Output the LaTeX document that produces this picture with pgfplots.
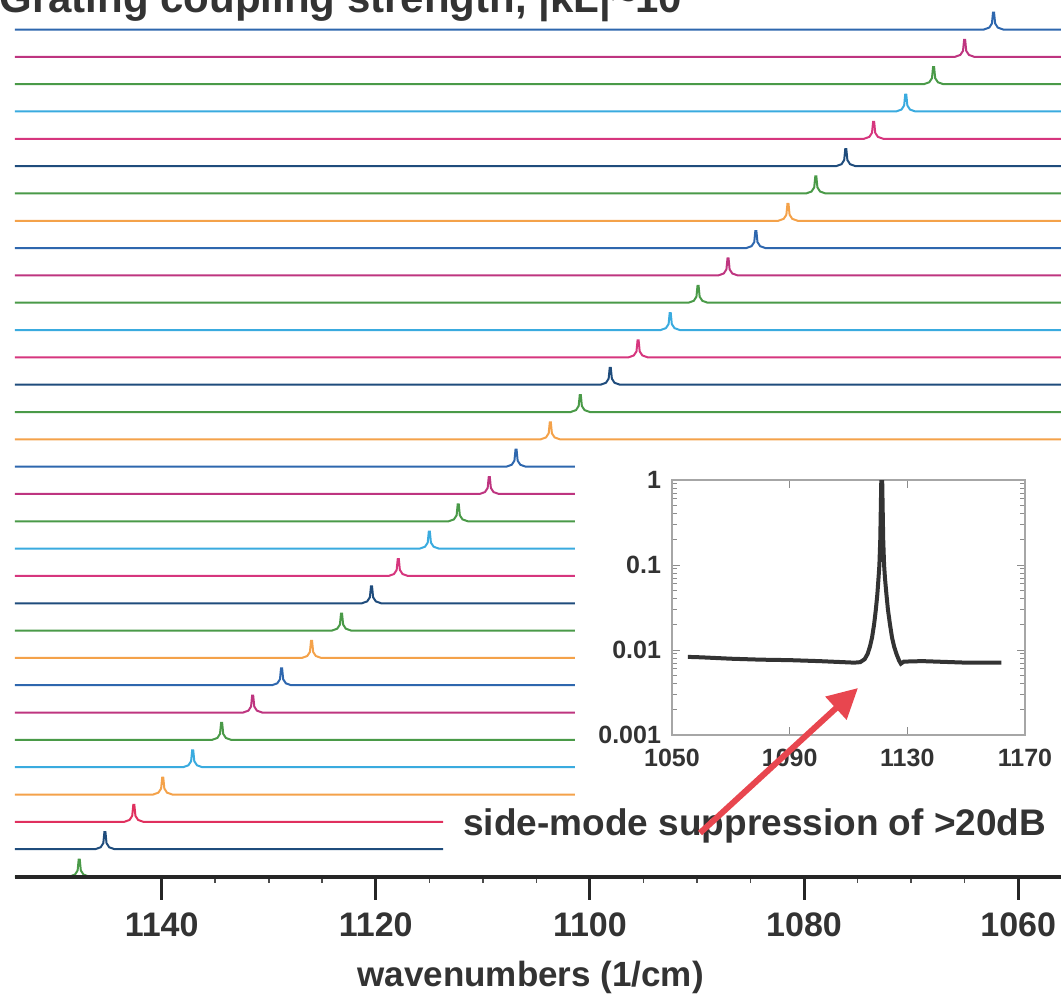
\documentclass[border=0pt]{standalone}
\usepackage{pgfplots}
\pgfplotsset{compat=1.18}
\usepackage{fontspec}
\setmainfont{Liberation Sans}
\usetikzlibrary{arrows.meta}
\definecolor{cblue}{HTML}{2E67AE}
\definecolor{cmag}{HTML}{BE3580}
\definecolor{cpink}{HTML}{D6367E}
\definecolor{cgreen}{HTML}{4A9A48}
\definecolor{clblue}{HTML}{3AABDF}
\definecolor{cdblue}{HTML}{1F4C7C}
\definecolor{corange}{HTML}{F4A24A}
\definecolor{cred}{HTML}{E0305E}
\definecolor{arrowred}{HTML}{E8464F}
\definecolor{txt}{HTML}{333333}
\pgfplotsset{tr/.style={line width=1pt, mark=none}}
\begin{document}
\begin{tikzpicture}
\begin{axis}[at={(0pt,0pt)}, anchor=south west, scale only axis,
  width=523pt, height=438.25pt,
  xmin=1056, xmax=1153.7, x dir=reverse, ymin=0, ymax=32.08,
  axis x line=bottom, axis y line=none,
  axis line style={line width=2pt, black!85},
  x axis line style={-},
  xtick={1060,1080,1100,1120,1140}, minor x tick num=3, ytick=\empty,
  tick align=outside, major tick length=11.5pt, minor tick length=3pt,
  major tick style={line width=1.5pt, black!85},
  minor tick style={line width=0.8pt, black!70},
  xticklabel style={font=\fontsize{17}{19}\selectfont\bfseries, text=txt, yshift=-3pt},
  xlabel={wavenumbers (1/cm)},
  xlabel style={font=\fontsize{17.5}{20}\selectfont\bfseries, text=txt, at={(axis description cs:0.493,0)}, anchor=base, yshift=-55pt},
  axis on top, clip=false,
  /pgf/number format/1000 sep={}, /pgf/number format/assume math mode=true]
\addplot[tr, cblue] coordinates {(1153.7,31) (1063.2,31) (1062.7,31.07) (1062.45,31.22) (1062.35,31.62) (1062.25,31.62) (1062.15,31.22) (1061.9,31.07) (1061.4,31) (1056,31)};
\addplot[tr, cmag] coordinates {(1153.7,30) (1065.9,30) (1065.4,30.07) (1065.15,30.22) (1065.05,30.62) (1064.95,30.62) (1064.85,30.22) (1064.6,30.07) (1064.1,30) (1056,30)};
\addplot[tr, cgreen] coordinates {(1153.7,29) (1068.8,29) (1068.3,29.07) (1068.05,29.22) (1067.95,29.62) (1067.85,29.62) (1067.75,29.22) (1067.5,29.07) (1067.0,29) (1056,29)};
\addplot[tr, clblue] coordinates {(1153.7,28) (1071.4,28) (1070.9,28.07) (1070.65,28.22) (1070.55,28.62) (1070.45,28.62) (1070.35,28.22) (1070.1,28.07) (1069.6,28) (1056,28)};
\addplot[tr, cpink] coordinates {(1153.7,27) (1074.4,27) (1073.9,27.07) (1073.65,27.22) (1073.55,27.62) (1073.45,27.62) (1073.35,27.22) (1073.1,27.07) (1072.6,27) (1056,27)};
\addplot[tr, cdblue] coordinates {(1153.7,26) (1077.0,26) (1076.5,26.07) (1076.25,26.22) (1076.15,26.62) (1076.05,26.62) (1075.95,26.22) (1075.7,26.07) (1075.2,26) (1056,26)};
\addplot[tr, cgreen] coordinates {(1153.7,25) (1079.8,25) (1079.3,25.07) (1079.05,25.22) (1078.95,25.62) (1078.85,25.62) (1078.75,25.22) (1078.5,25.07) (1078.0,25) (1056,25)};
\addplot[tr, corange] coordinates {(1153.7,24) (1082.4,24) (1081.9,24.07) (1081.65,24.22) (1081.55,24.62) (1081.45,24.62) (1081.35,24.22) (1081.1,24.07) (1080.6,24) (1056,24)};
\addplot[tr, cblue] coordinates {(1153.7,23) (1085.4,23) (1084.9,23.07) (1084.65,23.22) (1084.55,23.62) (1084.45,23.62) (1084.35,23.22) (1084.1,23.07) (1083.6,23) (1056,23)};
\addplot[tr, cmag] coordinates {(1153.7,22) (1088.0,22) (1087.5,22.07) (1087.25,22.22) (1087.15,22.62) (1087.05,22.62) (1086.95,22.22) (1086.7,22.07) (1086.2,22) (1056,22)};
\addplot[tr, cgreen] coordinates {(1153.7,21) (1090.8,21) (1090.3,21.07) (1090.05,21.22) (1089.95,21.62) (1089.85,21.62) (1089.75,21.22) (1089.5,21.07) (1089.0,21) (1056,21)};
\addplot[tr, clblue] coordinates {(1153.7,20) (1093.4,20) (1092.9,20.07) (1092.65,20.22) (1092.55,20.62) (1092.45,20.62) (1092.35,20.22) (1092.1,20.07) (1091.6,20) (1056,20)};
\addplot[tr, cpink] coordinates {(1153.7,19) (1096.4,19) (1095.9,19.07) (1095.65,19.22) (1095.55,19.62) (1095.45,19.62) (1095.35,19.22) (1095.1,19.07) (1094.6,19) (1056,19)};
\addplot[tr, cdblue] coordinates {(1153.7,18) (1099.0,18) (1098.5,18.07) (1098.25,18.22) (1098.15,18.62) (1098.05,18.62) (1097.95,18.22) (1097.7,18.07) (1097.2,18) (1056,18)};
\addplot[tr, cgreen] coordinates {(1153.7,17) (1101.8,17) (1101.3,17.07) (1101.05,17.22) (1100.95,17.62) (1100.85,17.62) (1100.75,17.22) (1100.5,17.07) (1100.0,17) (1056,17)};
\addplot[tr, corange] coordinates {(1153.7,16) (1104.6,16) (1104.1,16.07) (1103.85,16.22) (1103.75,16.62) (1103.65,16.62) (1103.55,16.22) (1103.3,16.07) (1102.8,16) (1056,16)};
\addplot[tr, cblue] coordinates {(1153.7,15) (1107.8,15) (1107.3,15.07) (1107.05,15.22) (1106.95,15.62) (1106.85,15.62) (1106.75,15.22) (1106.5,15.07) (1106.0,15) (1101.4,15)};
\addplot[tr, cmag] coordinates {(1153.7,14) (1110.3,14) (1109.8,14.07) (1109.55,14.22) (1109.45,14.62) (1109.35,14.62) (1109.25,14.22) (1109.0,14.07) (1108.5,14) (1101.4,14)};
\addplot[tr, cgreen] coordinates {(1153.7,13) (1113.2,13) (1112.7,13.07) (1112.45,13.22) (1112.35,13.62) (1112.25,13.62) (1112.15,13.22) (1111.9,13.07) (1111.4,13) (1101.4,13)};
\addplot[tr, clblue] coordinates {(1153.7,12) (1115.9,12) (1115.4,12.07) (1115.15,12.22) (1115.05,12.62) (1114.95,12.62) (1114.85,12.22) (1114.6,12.07) (1114.1,12) (1101.4,12)};
\addplot[tr, cpink] coordinates {(1153.7,11) (1118.8,11) (1118.3,11.07) (1118.05,11.22) (1117.95,11.62) (1117.85,11.62) (1117.75,11.22) (1117.5,11.07) (1117.0,11) (1101.4,11)};
\addplot[tr, cdblue] coordinates {(1153.7,10) (1121.3,10) (1120.8,10.07) (1120.55,10.22) (1120.45,10.62) (1120.35,10.62) (1120.25,10.22) (1120.0,10.07) (1119.5,10) (1101.4,10)};
\addplot[tr, cgreen] coordinates {(1153.7,9) (1124.1,9) (1123.6,9.07) (1123.35,9.22) (1123.25,9.62) (1123.15,9.62) (1123.05,9.22) (1122.8,9.07) (1122.3,9) (1101.4,9)};
\addplot[tr, corange] coordinates {(1153.7,8) (1126.9,8) (1126.4,8.07) (1126.15,8.22) (1126.05,8.62) (1125.95,8.62) (1125.85,8.22) (1125.6,8.07) (1125.1,8) (1101.4,8)};
\addplot[tr, cblue] coordinates {(1153.7,7) (1129.7,7) (1129.2,7.07) (1128.95,7.22) (1128.85,7.62) (1128.75,7.62) (1128.65,7.22) (1128.4,7.07) (1127.9,7) (1101.4,7)};
\addplot[tr, cmag] coordinates {(1153.7,6) (1132.4,6) (1131.9,6.07) (1131.65,6.22) (1131.55,6.62) (1131.45,6.62) (1131.35,6.22) (1131.1,6.07) (1130.6,6) (1101.4,6)};
\addplot[tr, cgreen] coordinates {(1153.7,5) (1135.3,5) (1134.8,5.07) (1134.55,5.22) (1134.45,5.62) (1134.35,5.62) (1134.25,5.22) (1134.0,5.07) (1133.5,5) (1101.4,5)};
\addplot[tr, clblue] coordinates {(1153.7,4) (1138.0,4) (1137.5,4.07) (1137.25,4.22) (1137.15,4.62) (1137.05,4.62) (1136.95,4.22) (1136.7,4.07) (1136.2,4) (1101.4,4)};
\addplot[tr, corange] coordinates {(1153.7,3) (1140.8,3) (1140.3,3.07) (1140.05,3.22) (1139.95,3.62) (1139.85,3.62) (1139.75,3.22) (1139.5,3.07) (1139.0,3) (1101.4,3)};
\addplot[tr, cred] coordinates {(1153.7,2) (1143.5,2) (1143.0,2.07) (1142.75,2.22) (1142.65,2.62) (1142.55,2.62) (1142.45,2.22) (1142.2,2.07) (1141.7,2) (1113.7,2)};
\addplot[tr, cdblue] coordinates {(1153.7,1) (1146.2,1) (1145.7,1.07) (1145.45,1.22) (1145.35,1.62) (1145.25,1.62) (1145.15,1.22) (1144.9,1.07) (1144.4,1) (1113.7,1)};
\addplot[tr, cgreen] coordinates {(1153.7,0) (1148.6,0) (1148.1,0.07) (1147.85,0.22) (1147.75,0.62) (1147.65,0.62) (1147.55,0.22) (1147.3,0.07) (1146.8,0) (1056,0)};
\end{axis}
\begin{axis}[at={(328.5pt,70.75pt)}, anchor=south west, scale only axis,
  width=176.5pt, height=127.5pt,
  xmin=1050, xmax=1170, ymode=log, ymin=0.001, ymax=1,
  xtick={1050,1090,1130,1170}, ytick={0.001,0.01,0.1,1}, yticklabels={0.001,0.01,0.1,1},
  axis line style={draw=black!35, line width=0.6pt},
  tick style={black!45, line width=0.5pt}, tick align=inside,
  major tick length=4pt, minor tick length=2.5pt,
  ticklabel style={font=\fontsize{12.5}{14}\selectfont\bfseries, text=txt},
  xticklabel style={yshift=-3.5pt},
  yticklabel style={xshift=-2pt},
  /pgf/number format/1000 sep={}, /pgf/number format/assume math mode=true]
\addplot[draw=black!80, line width=2pt, mark=none] coordinates {
(1055.4,0.0083) (1060,0.0082) (1070,0.0079) (1080,0.0077) (1090,0.0076) (1100,0.0074) (1108,0.0072) (1112,0.0071)
(1114,0.0072) (1115.5,0.0078) (1116.5,0.009) (1117.3,0.011) (1118,0.014) (1118.7,0.02) (1119.3,0.03) (1119.8,0.045)
(1120.2,0.07) (1120.5,0.1) (1120.8,0.2) (1121.0,0.5) (1121.15,1.0) (1121.45,1.0) (1121.6,0.5) (1121.8,0.2)
(1122.1,0.1) (1122.4,0.07) (1122.9,0.045) (1123.4,0.03) (1124.1,0.02) (1124.8,0.014) (1125.5,0.011) (1126.3,0.009)
(1127.2,0.0075) (1127.8,0.0069) (1128.8,0.0073) (1135,0.0074) (1140,0.0073) (1150,0.0071) (1155,0.0071) (1162,0.0071)};
\end{axis}
\node[anchor=base west, inner sep=0pt, text=txt, font=\fontsize{18.5}{21}\selectfont\bfseries] at (224pt,20.75pt) {side-mode suppression of >20dB};
\draw[arrowred, line width=3pt, -{Triangle[length=15pt,width=15pt]}] (342.5pt,21.75pt) -- (421.5pt,94.25pt);
\node[anchor=base west, inner sep=0pt, text=txt, font=\fontsize{21}{24}\selectfont\bfseries] at (-8pt,431.75pt) {Grating coupling strength, |κL|\textasciitilde 10};
\pgfresetboundingbox
\useasboundingbox (-7.5pt,-60.25pt) rectangle (523pt,438.25pt);
\end{tikzpicture}
\end{document}
